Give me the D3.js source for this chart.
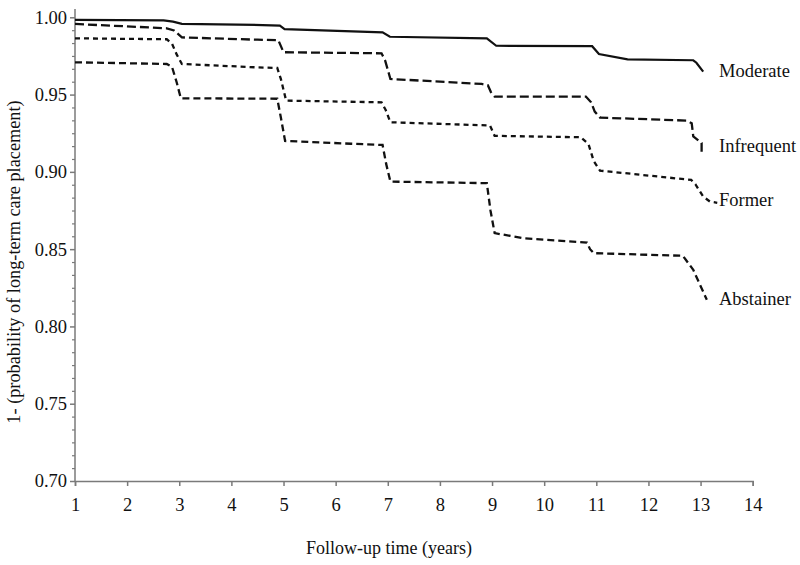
<!DOCTYPE html>
<html>
<head>
<meta charset="utf-8">
<script src="https://cdn.jsdelivr.net/npm/d3@7"></script>
<style>
  body { margin: 0; background: #fff; }
  svg text { font-family: "Liberation Serif", "Times New Roman", serif; fill: #111; }
</style>
</head>
<body>
<div id="viz"></div>
<script>
// tick labels
var xTicks = [1, 2, 3, 4, 5, 6, 7, 8, 9, 10, 11, 12, 13, 14];
var yTicks = [0.70, 0.75, 0.80, 0.85, 0.90, 0.95, 1.00];

// series: [follow-up year, 1 - P(long-term care)]
var moderate = [[1, 0.9983], [2.7, 0.9980], [2.88, 0.9972], [3.05, 0.9958], [4.6, 0.9950], [4.93, 0.9946],
  [5.02, 0.9924], [6.9, 0.9903], [7.04, 0.9874], [8.9, 0.9864], [9.08, 0.9816], [10.92, 0.9813],
  [11.05, 0.9762], [11.6, 0.9728], [12.86, 0.9722], [12.92, 0.9706], [13.05, 0.9648]];
var infrequent = [[1, 0.9957], [2.76, 0.9929], [2.9, 0.9915], [3.05, 0.9870], [4.5, 0.9855], [4.9, 0.9852],
  [5.0, 0.9774], [6.88, 0.9767], [6.95, 0.9720], [7.05, 0.9601], [8.8, 0.9569], [8.92, 0.9560],
  [8.98, 0.9515], [9.05, 0.9487], [10.8, 0.9487], [10.9, 0.9450], [10.97, 0.9390], [11.07, 0.9351],
  [12.73, 0.9332], [12.83, 0.9315], [12.86, 0.9229], [13.02, 0.9186], [13.02, 0.9110]];
var former = [[1, 0.9864], [2.76, 0.9858], [2.86, 0.9830], [2.95, 0.9760], [3.05, 0.9698], [4.5, 0.9676],
  [4.88, 0.9672], [4.95, 0.9600], [5.05, 0.9461], [6.88, 0.9450], [6.96, 0.9400], [7.05, 0.9321],
  [8.96, 0.9300], [9.05, 0.9233], [10.7, 0.9224], [10.85, 0.9180], [10.95, 0.9070], [11.07, 0.9008],
  [12.82, 0.8948], [12.9, 0.8920], [13.05, 0.8840], [13.18, 0.8808], [13.32, 0.8800]];
var abstainer = [[1, 0.9709], [2.76, 0.9698], [2.86, 0.9680], [2.95, 0.9580], [3.03, 0.9476], [4.88, 0.9473],
  [4.95, 0.9350], [5.03, 0.9200], [6.3, 0.9182], [6.9, 0.9174], [6.97, 0.9050], [7.05, 0.8937],
  [8.9, 0.8927], [8.97, 0.8750], [9.05, 0.8604], [9.6, 0.8570], [10.82, 0.8543], [10.88, 0.8500],
  [10.95, 0.8474], [12.66, 0.8457], [12.72, 0.8430], [12.86, 0.8366], [13.12, 0.8172]];

var seriesNames = ["Moderate", "Infrequent", "Former", "Abstainer"];
var seriesData = [moderate, infrequent, former, abstainer];
var seriesDash = [null, "9,4", "5,4", "7,4"];
var labelY = [0.9655, 0.9165, 0.8815, 0.8180];

var width = 800, height = 565;
var svg = d3.select("#viz").append("svg")
  .attr("width", width)
  .attr("height", height);

var x = d3.scaleLinear().domain([1, 14]).range([75, 752.7]);
var y = d3.scaleLinear().domain([0.70, 1.00]).range([481, 17.3]);

var axisColor = "#7a7a7a";

// y minor ticks (5 between majors)
var minor = [];
for (var i = 0; i < yTicks.length - 1; i++) {
  for (var k = 1; k < 6; k++) minor.push(yTicks[i] + k * 0.05 / 6);
}
var yMinor = svg.append("g")
  .attr("transform", "translate(" + x(1) + ",0)")
  .call(d3.axisLeft(y).tickValues(minor).tickSize(3).tickFormat(""));
yMinor.select(".domain").remove();
yMinor.selectAll("line").attr("stroke", axisColor).attr("stroke-width", 1.2);

var yAxis = svg.append("g")
  .attr("transform", "translate(" + x(1) + ",0)")
  .call(d3.axisLeft(y).tickValues(yTicks).tickSize(5).tickPadding(3).tickFormat(d3.format(".2f")));
yAxis.select(".domain").remove();
yAxis.selectAll("line").attr("stroke", axisColor).attr("stroke-width", 1.5);
yAxis.selectAll("text").style("font-size", "18.5px");

svg.append("line")
  .attr("x1", x(1)).attr("x2", x(1))
  .attr("y1", 9).attr("y2", y(0.70))
  .attr("stroke", axisColor).attr("stroke-width", 1.5);

var xAxis = svg.append("g")
  .attr("transform", "translate(0," + y(0.70) + ")")
  .call(d3.axisBottom(x).tickValues(xTicks).tickSize(5).tickPadding(12).tickFormat(d3.format("d")));
xAxis.select(".domain").attr("stroke", axisColor).attr("stroke-width", 1.5);
xAxis.selectAll("line").attr("stroke", axisColor).attr("stroke-width", 1.5);
xAxis.selectAll("text").style("font-size", "18.5px");

var line = d3.line()
  .x(function (d) { return x(d[0]); })
  .y(function (d) { return y(d[1]); });

seriesData.forEach(function (s, i) {
  svg.append("path")
    .datum(s)
    .attr("d", line)
    .attr("fill", "none")
    .attr("stroke", "#111")
    .attr("stroke-width", i === 0 ? 2.2 : 2.3)
    .attr("stroke-dasharray", seriesDash[i]);
  svg.append("text")
    .attr("x", 719)
    .attr("y", y(labelY[i]) + 6)
    .style("font-size", "18.5px")
    .text(seriesNames[i]);
});

svg.append("text")
  .attr("x", 389)
  .attr("y", 554)
  .attr("text-anchor", "middle")
  .style("font-size", "18px")
  .text("Follow-up time (years)");

svg.append("text")
  .attr("transform", "translate(20,262) rotate(-90)")
  .attr("text-anchor", "middle")
  .style("font-size", "18.3px")
  .text("1- (probability of long-term care placement)");
</script>
</body>
</html>
